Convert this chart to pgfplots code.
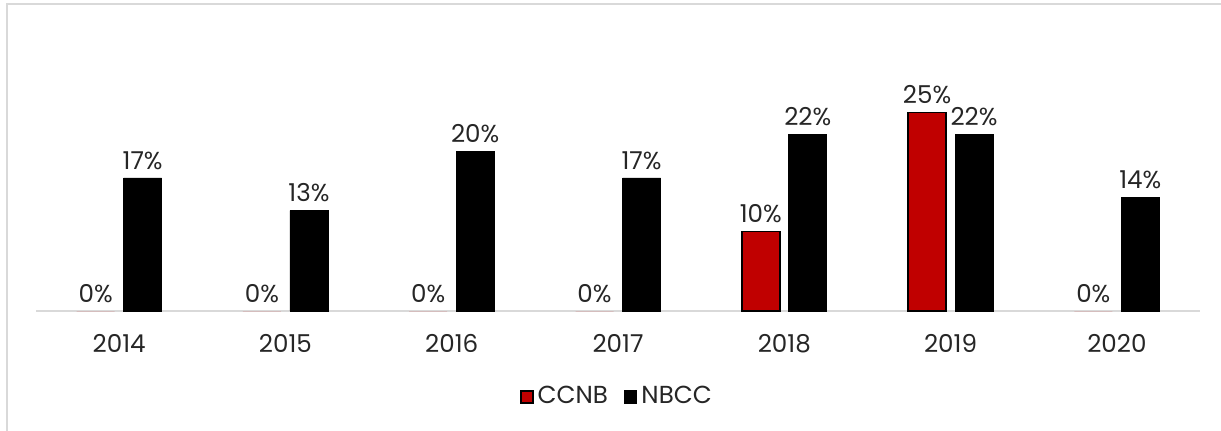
\documentclass[border=0pt]{standalone}
\usepackage{fontspec}
\setmainfont{Poppins}
\usepackage{pgfplots}
\pgfplotsset{compat=1.18}
\definecolor{ccnbred}{HTML}{C00000}
\definecolor{framegray}{HTML}{D9D9D9}
\definecolor{txt}{HTML}{262626}
\newlength\px
\setlength\px{0.5pt}

\begin{document}
\fontsize{12.3}{14}\selectfont
\begin{tikzpicture}
\path[use as bounding box] (0,0) rectangle (1221\px,-430\px);
\draw[framegray, line width=1.5\px] (7\px,-460\px) -- (7\px,-4\px) -- (1260\px,-4\px);
\begin{axis}[
  at={(36\px,-311\px)}, anchor=south west,
  scale only axis,
  width=1164\px, height=239\px,
  ybar, bar width=38\px,
  xmin=-0.5, xmax=6.5, ymin=0, ymax=30,
  xtick=data,
  xticklabels={2014,2015,2016,2017,2018,2019,2020},
  x tick label style={text=txt, yshift=-6\px},
  axis x line*=bottom, hide y axis,
  x axis line style={-, draw=framegray, line width=1.5\px},
  tick style={draw=none},
  nodes near coords style={text=txt, font=\fontsize{12.3}{14}\selectfont, inner sep=0pt, yshift=8\px},
  /pgf/number format/assume math mode=true,
  legend style={at={(0.5,-0.36)}, anchor=center, draw=none, legend columns=2,
    /tikz/every even column/.append style={column sep=12\px}, text=txt,
    font=\fontsize{12.3}{14}\selectfont},
  legend image code/.code={\draw[#1, line width=1.5\px] (0,-6\px) rectangle (12\px,6\px);},
]
% CCNB: fill and labels
\addplot[bar shift=-23.5\px, fill=ccnbred, draw=none,
  nodes near coords={\pgfmathprintnumber[fixed,precision=0]{\pgfplotspointmeta}\%}]
  coordinates {(0,0) (1,0) (2,0) (3,0) (4,10) (5,24.9) (6,0)};
% NBCC
\addplot[bar shift=23.5\px, fill=black, draw=black,
  nodes near coords={\pgfmathprintnumber[fixed,precision=0]{\pgfplotspointmeta}\%}]
  coordinates {(0,16.7) (1,12.6) (2,20) (3,16.7) (4,22.2) (5,22.2) (6,14.3)};
% CCNB outlines on the non-zero bars
\addplot[bar shift=-23.5\px, fill=ccnbred, draw=black, line width=1.5\px, forget plot]
  coordinates {(4,10) (5,24.9)};
\legend{CCNB,NBCC}
\end{axis}
\end{tikzpicture}
\end{document}
